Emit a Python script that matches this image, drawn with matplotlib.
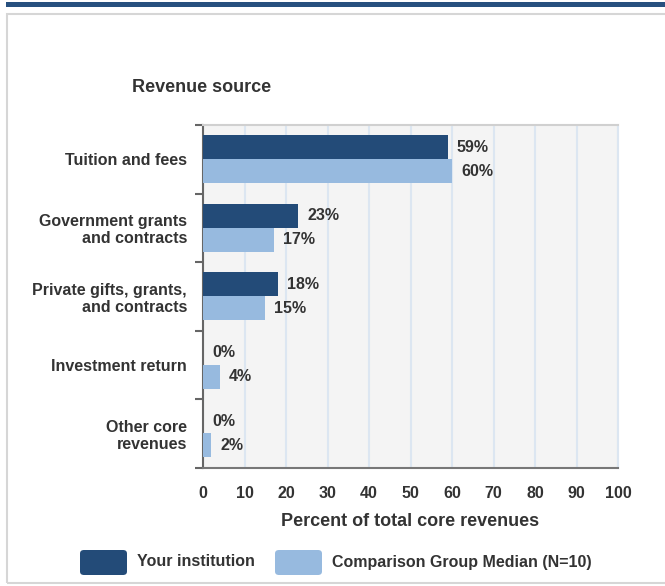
import numpy as np
import matplotlib
matplotlib.use('Agg')
import matplotlib.pyplot as plt
from matplotlib.patches import Rectangle, FancyBboxPatch

# Data
categories = ['Tuition and fees', 'Government grants\nand contracts',
              'Private gifts, grants,\nand contracts', 'Investment return',
              'Other core\nrevenues']
your_institution = [59, 23, 18, 0, 0]
comparison_median = [60, 17, 15, 4, 2]
x_ticks = [0, 10, 20, 30, 40, 50, 60, 70, 80, 90, 100]

DARK = '#234b78'
LIGHT = '#97badf'
TEXT = '#333333'

plt.rcParams['font.family'] = ['Liberation Sans', 'DejaVu Sans']
plt.rcParams['font.weight'] = 'bold'

W, H = 665, 586
fig = plt.figure(figsize=(W / 100, H / 100), dpi=100)

# frame decorations
fig.patches.append(Rectangle((6 / W, 1 - 7 / H), 1, 5 / H, transform=fig.transFigure,
                             facecolor='#27507f', edgecolor='none', zorder=-1))
fig.patches.append(Rectangle((7 / W, 1 - 583 / H), 1.2, (583 - 14) / H, transform=fig.transFigure,
                             facecolor='none', edgecolor='#d6d6d6', linewidth=1.5, zorder=-1))

# plot area in pixels
left, right, top, bottom = 203, 618, 125, 467.5
ax = fig.add_axes([left / W, 1 - bottom / H, (right - left) / W, (bottom - top) / H])
ax.set_facecolor('#f4f4f4')

n = len(categories)
centers = np.arange(n) + 0.5
bh = 0.354
ax.barh(centers - bh / 2, your_institution, height=bh, color=DARK, zorder=3)
ax.barh(centers + bh / 2, comparison_median, height=bh, color=LIGHT, zorder=3)

for c, v in zip(centers, your_institution):
    ax.annotate(f'{v}%', (v, c - bh / 2), xytext=(6.5, 0), textcoords='offset points',
                ha='left', va='center', fontsize=11.5, color=TEXT, fontweight='bold')
for c, v in zip(centers, comparison_median):
    ax.annotate(f'{v}%', (v, c + bh / 2), xytext=(6.5, 0), textcoords='offset points',
                ha='left', va='center', fontsize=11.5, color=TEXT, fontweight='bold')

ax.set_xlim(0, 100)
ax.set_ylim(n, 0)
ax.set_xticks(x_ticks)
ax.set_xticklabels([str(t) for t in x_ticks], fontsize=11.5, color=TEXT, fontweight='bold')
ax.tick_params(axis='x', length=0, pad=13)
ax.xaxis.grid(True, color='#dce6f1', linewidth=1.5, zorder=0)
ax.set_axisbelow(True)

ax.set_yticks(centers)
ax.set_yticklabels(categories, fontsize=11.5, color=TEXT, fontweight='bold',
                   linespacing=1.15)
ax.set_yticks(np.arange(n + 1), minor=True)
ax.tick_params(axis='y', which='major', length=0, pad=11.5)
ax.tick_params(axis='y', which='minor', length=6, width=1.5, color='#666666')

for s in ['top', 'right']:
    ax.spines[s].set_color('#d0d0d0')
    ax.spines[s].set_linewidth(1.5)
ax.spines['right'].set_color('#dce6f1')
ax.spines['left'].set_color('#666666')
ax.spines['left'].set_linewidth(1.5)
ax.spines['bottom'].set_color('#777777')
ax.spines['bottom'].set_linewidth(1.5)

fig.text(132 / W, 1 - 88 / H, 'Revenue source', fontsize=13, color=TEXT,
         fontweight='bold', ha='left', va='center')
fig.text(410 / W, 1 - 522 / H, 'Percent of total core revenues', fontsize=13,
         color=TEXT, fontweight='bold', ha='center', va='center')

# legend
for x0, col, label in [(80, DARK, 'Your institution'),
                       (275, LIGHT, 'Comparison Group Median (N=10)')]:
    fig.patches.append(FancyBboxPatch((x0 / W, 1 - 575 / H), 47 / W, 25 / H,
                                      boxstyle='round,pad=0,rounding_size=0.006',
                                      transform=fig.transFigure, facecolor=col,
                                      edgecolor='none'))
    fig.text((x0 + 57) / W, 1 - 562 / H, label, fontsize=11.5, color=TEXT,
             fontweight='bold', ha='left', va='center')

fig.savefig('out.png', dpi=100)
